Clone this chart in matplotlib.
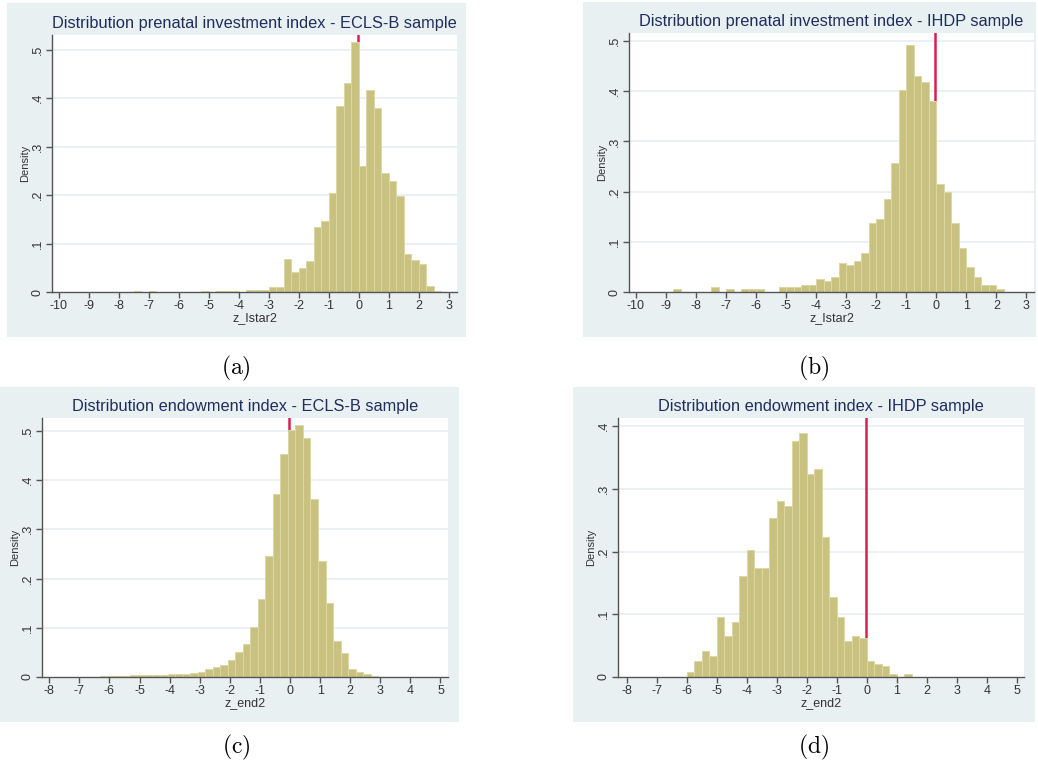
import matplotlib
matplotlib.use("Agg")
import matplotlib.pyplot as plt
import matplotlib.patches as patches
import matplotlib.transforms as mtransforms

# ---------------------------------------------------------------
# Data (bin left edges, bin width 0.25, density)
# ---------------------------------------------------------------
BIN_W = 0.25
XLINE = 0.0

# (a) prenatal investment index - ECLS-B
a_left = [-7.5, -7.0, -5.25, -4.75, -4.5, -4.25, -3.75, -3.5, -3.25, -3.0, -2.75,
          -2.5, -2.25, -2.0, -1.75, -1.5, -1.25, -1.0, -0.75, -0.5, -0.25,
          0.0, 0.25, 0.5, 0.75, 1.0, 1.25, 1.5, 1.75, 2.0, 2.25, 2.5]
a_dens = [0.002, 0.002, 0.002, 0.002, 0.002, 0.002, 0.004, 0.004, 0.004, 0.010, 0.011,
          0.069, 0.042, 0.049, 0.063, 0.135, 0.146, 0.204, 0.384, 0.432, 0.516,
          0.260, 0.417, 0.380, 0.246, 0.229, 0.199, 0.078, 0.065, 0.057, 0.012, 0.003]

# (b) prenatal investment index - IHDP
b_left = [-8.75, -7.5, -7.0, -6.5, -6.25, -6.0, -5.25, -5.0, -4.75, -4.5, -4.25,
          -4.0, -3.75, -3.5, -3.25, -3.0, -2.75, -2.5, -2.25, -2.0, -1.75, -1.5,
          -1.25, -1.0, -0.75, -0.5, -0.25, 0.0, 0.25, 0.5, 0.75, 1.0, 1.25, 1.5,
          1.75, 2.0]
b_dens = [0.005, 0.009, 0.005, 0.005, 0.005, 0.005, 0.009, 0.009, 0.009, 0.013, 0.013,
          0.025, 0.021, 0.029, 0.058, 0.054, 0.062, 0.078, 0.137, 0.145, 0.186, 0.258,
          0.402, 0.493, 0.431, 0.418, 0.381, 0.216, 0.199, 0.137, 0.087, 0.050, 0.029, 0.013,
          0.013, 0.005]

# (c) endowment index - ECLS-B
c_left = [-7.82, -7.57, -7.32, -7.07, -6.82, -6.57, -6.32, -6.07, -5.82, -5.57, -5.32,
          -5.07, -4.82, -4.57, -4.32, -4.07, -3.82, -3.57, -3.32, -3.07, -2.82, -2.57,
          -2.32, -2.07, -1.82, -1.57, -1.32, -1.07, -0.82, -0.57, -0.32, -0.07,
          0.18, 0.43, 0.68, 0.93, 1.18, 1.43, 1.68, 1.93, 2.18, 2.43, 2.68,
          2.93, 3.18, 3.43, 3.68, 3.93]
c_dens = [0.001, 0.001, 0.001, 0.001, 0.001, 0.001, 0.002, 0.003, 0.003, 0.003, 0.004,
          0.004, 0.004, 0.004, 0.005, 0.006, 0.006, 0.007, 0.008, 0.010, 0.017, 0.020,
          0.024, 0.034, 0.050, 0.068, 0.101, 0.159, 0.246, 0.371, 0.453, 0.501,
          0.511, 0.485, 0.361, 0.235, 0.150, 0.074, 0.048, 0.016, 0.010, 0.006, 0.002,
          0.001, 0.001, 0.001, 0.001, 0.001]

# (d) endowment index - IHDP
d_left = [-6.0, -5.75, -5.5, -5.25, -5.0, -4.75, -4.5, -4.25, -4.0, -3.75, -3.5,
          -3.25, -3.0, -2.75, -2.5, -2.25, -2.0, -1.75, -1.5, -1.25, -1.0, -0.75,
          -0.5, -0.25, 0.0, 0.25, 0.5, 0.75, 1.25]
d_dens = [0.008, 0.025, 0.042, 0.033, 0.095, 0.066, 0.087, 0.161, 0.203, 0.174, 0.174,
          0.253, 0.281, 0.273, 0.377, 0.389, 0.323, 0.331, 0.223, 0.128, 0.095, 0.057,
          0.066, 0.062, 0.025, 0.021, 0.017, 0.004, 0.004]

titles = ["Distribution prenatal investment index - ECLS-B sample",
          "Distribution prenatal investment index - IHDP sample",
          "Distribution endowment index - ECLS-B sample",
          "Distribution endowment index - IHDP sample"]
xlabels = ["z_Istar2", "z_Istar2", "z_end2", "z_end2"]
captions = ["(a)", "(b)", "(c)", "(d)"]
xticks_ab = list(range(-10, 4))
xticks_cd = list(range(-8, 6))
yticks_abc = [0, 0.1, 0.2, 0.3, 0.4, 0.5]
yticks_d = [0, 0.1, 0.2, 0.3, 0.4]
ytick_labels_abc = ["0", ".1", ".2", ".3", ".4", ".5"]
ytick_labels_d = ["0", ".1", ".2", ".3", ".4"]

# ---------------------------------------------------------------
# Style
# ---------------------------------------------------------------
W, H = 1038, 771
BG = "#E8F0F2"
BAR = "#C9C180"
BAR_EDGE = "#DCD7A6"
GRID = "#E6EEF1"
AXIS = "#555555"
TITLE_C = "#1F2D5C"
RED = "#DA1E52"

plt.rcParams["font.family"] = ["Liberation Sans", "DejaVu Sans"]
plt.rcParams["mathtext.fontset"] = "cm"

fig = plt.figure(figsize=(W / 100, H / 100), dpi=100)
fig.patch.set_facecolor("white")


def px_rect(x0, y0, x1, y1):
    return [x0 / W, 1 - y1 / H, (x1 - x0) / W, (y1 - y0) / H]


panels = [
    # box (px), plot area (px), xlim, ylim, data, yticks, caption pos
    dict(box=(7, 3, 466, 337), ax=(52, 35, 457, 292), xlim=(-10.23, 3.27), ylim=(0, 0.530),
         left=a_left, dens=a_dens, xt=xticks_ab, yt=yticks_abc, ytl=ytick_labels_abc, cap=(236, 368)),
    dict(box=(583, 2, 1036, 337), ax=(629, 33, 1034, 292), xlim=(-10.23, 3.25), ylim=(0, 0.516),
         left=b_left, dens=b_dens, xt=xticks_ab, yt=yticks_abc, ytl=ytick_labels_abc, cap=(814, 368)),
    dict(box=(0, 387, 459, 722), ax=(42, 418, 448, 677), xlim=(-8.24, 5.25), ylim=(0, 0.526),
         left=c_left, dens=c_dens, xt=xticks_cd, yt=yticks_abc, ytl=ytick_labels_abc, cap=(236, 747)),
    dict(box=(573, 387, 1035, 722), ax=(618, 418, 1024, 677), xlim=(-8.29, 5.24), ylim=(0, 0.413),
         left=d_left, dens=d_dens, xt=xticks_cd, yt=yticks_d, ytl=ytick_labels_d, cap=(814, 747)),
]

for i, p in enumerate(panels):
    bx0, by0, bx1, by1 = p["box"]
    fig.patches.append(patches.Rectangle(
        (bx0 / W, 1 - by1 / H), (bx1 - bx0) / W, (by1 - by0) / H,
        transform=fig.transFigure, facecolor=BG, edgecolor="none", zorder=-10))

    ax = fig.add_axes(px_rect(*p["ax"]))
    ax.set_zorder(1)
    ax.set_facecolor("white")
    ax.set_xlim(*p["xlim"])
    ax.set_ylim(*p["ylim"])

    for yv in p["yt"][1:]:
        ax.axhline(yv, color=GRID, linewidth=1.2, zorder=0)

    # reference line at zero, behind the bars (nudged a pixel left like Stata)
    shift = mtransforms.offset_copy(ax.get_xaxis_transform(), fig=fig, x=-1.2, units="dots")
    ax.plot([XLINE, XLINE], [0, 1], color=RED, linewidth=1.8, zorder=1, transform=shift)

    ax.bar(p["left"], p["dens"], width=BIN_W, align="edge", color=BAR,
           edgecolor=BAR_EDGE, linewidth=0.7, zorder=2)

    for s in ["top", "right"]:
        ax.spines[s].set_visible(False)
    for s in ["left", "bottom"]:
        ax.spines[s].set_color(AXIS)
        ax.spines[s].set_linewidth(1.0)

    ax.set_xticks(p["xt"])
    ax.set_xticklabels([str(v) for v in p["xt"]])
    ax.set_yticks(p["yt"])
    ax.set_yticklabels(p["ytl"], rotation=90, va="center")
    ax.tick_params(axis="both", colors=AXIS, labelcolor="#333333", labelsize=9,
                   length=4, width=1.0, direction="out", pad=2)

    ax.set_xlabel(xlabels[i], fontsize=9, color="#333333", labelpad=0)
    ax.set_ylabel("Density", fontsize=8, color="#333333")
    ax.yaxis.set_label_coords(-0.054, 0.5)

    ax.set_title(titles[i], fontsize=11.8, color=TITLE_C, pad=5)

    cx, cy = p["cap"]
    fig.text(cx / W, 1 - cy / H, r"$\mathrm{" + captions[i] + "}$", fontsize=17,
             ha="center", va="center", color="black")

fig.savefig("out.png", dpi=100, facecolor="white")
